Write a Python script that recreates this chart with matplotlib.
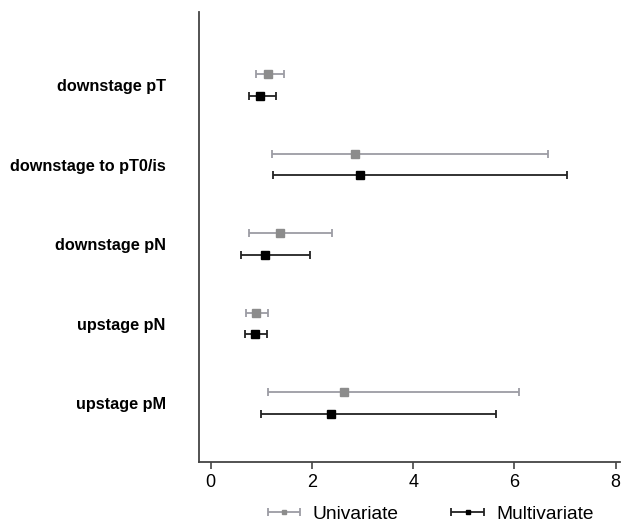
import numpy as np
import matplotlib.pyplot as plt
from matplotlib.container import ErrorbarContainer
from matplotlib.legend_handler import HandlerErrorbar

labels = ['downstage pT', 'downstage to pT0/is', 'downstage pN', 'upstage pN', 'upstage pM']

uni_est = [1.14, 2.85, 1.36, 0.89, 2.63]
uni_lo = [0.90, 1.22, 0.76, 0.69, 1.13]
uni_hi = [1.45, 6.66, 2.39, 1.13, 6.10]

multi_est = [0.98, 2.95, 1.08, 0.87, 2.38]
multi_lo = [0.75, 1.24, 0.59, 0.67, 1.00]
multi_hi = [1.29, 7.04, 1.96, 1.11, 5.64]

plt.rcParams['font.family'] = ['Liberation Sans', 'DejaVu Sans']

fig = plt.figure(figsize=(6.24, 5.24), dpi=100)
ax = fig.add_axes([0.319, 0.118, 0.674, 0.859])

pos = np.arange(len(labels))[::-1] + 1.0
off = 0.135

ue = np.array(uni_est)
me = np.array(multi_est)
ax.errorbar(ue, pos + off, xerr=[ue - np.array(uni_lo), np.array(uni_hi) - ue],
            fmt='s', color='#8c8c8c', ecolor='#9c9ca4', elinewidth=1.3, capsize=3,
            capthick=1.3, markersize=5.2, label='Univariate')
ax.errorbar(me, pos - off, xerr=[me - np.array(multi_lo), np.array(multi_hi) - me],
            fmt='s', color='black', ecolor='#222222', elinewidth=1.3, capsize=3,
            capthick=1.3, markersize=5.2, label='Multivariate')

ax.set_xlim(-0.23, 8.08)
ax.set_ylim(0.258, 5.918)
ax.set_yticks(pos)
ax.set_yticklabels(labels, fontsize=11.7, fontweight='bold')
ax.tick_params(axis='y', length=0, pad=24)
ax.set_xticks([0, 2, 4, 6, 8])
ax.tick_params(axis='x', labelsize=13, length=5, width=1.2, color='#444444', direction='out')

for s in ['top', 'right']:
    ax.spines[s].set_visible(False)
for s in ['left', 'bottom']:
    ax.spines[s].set_color('#444444')
    ax.spines[s].set_linewidth(1.3)

ax.legend(loc='upper center', bbox_to_anchor=(0.55, -0.058), ncol=2, frameon=False,
          fontsize=13.8, columnspacing=2.7, handlelength=1.8, handletextpad=0.6,
          markerscale=0.6,
          handler_map={ErrorbarContainer: HandlerErrorbar(xerr_size=0.86)})

fig.savefig('out.png', dpi=100)
